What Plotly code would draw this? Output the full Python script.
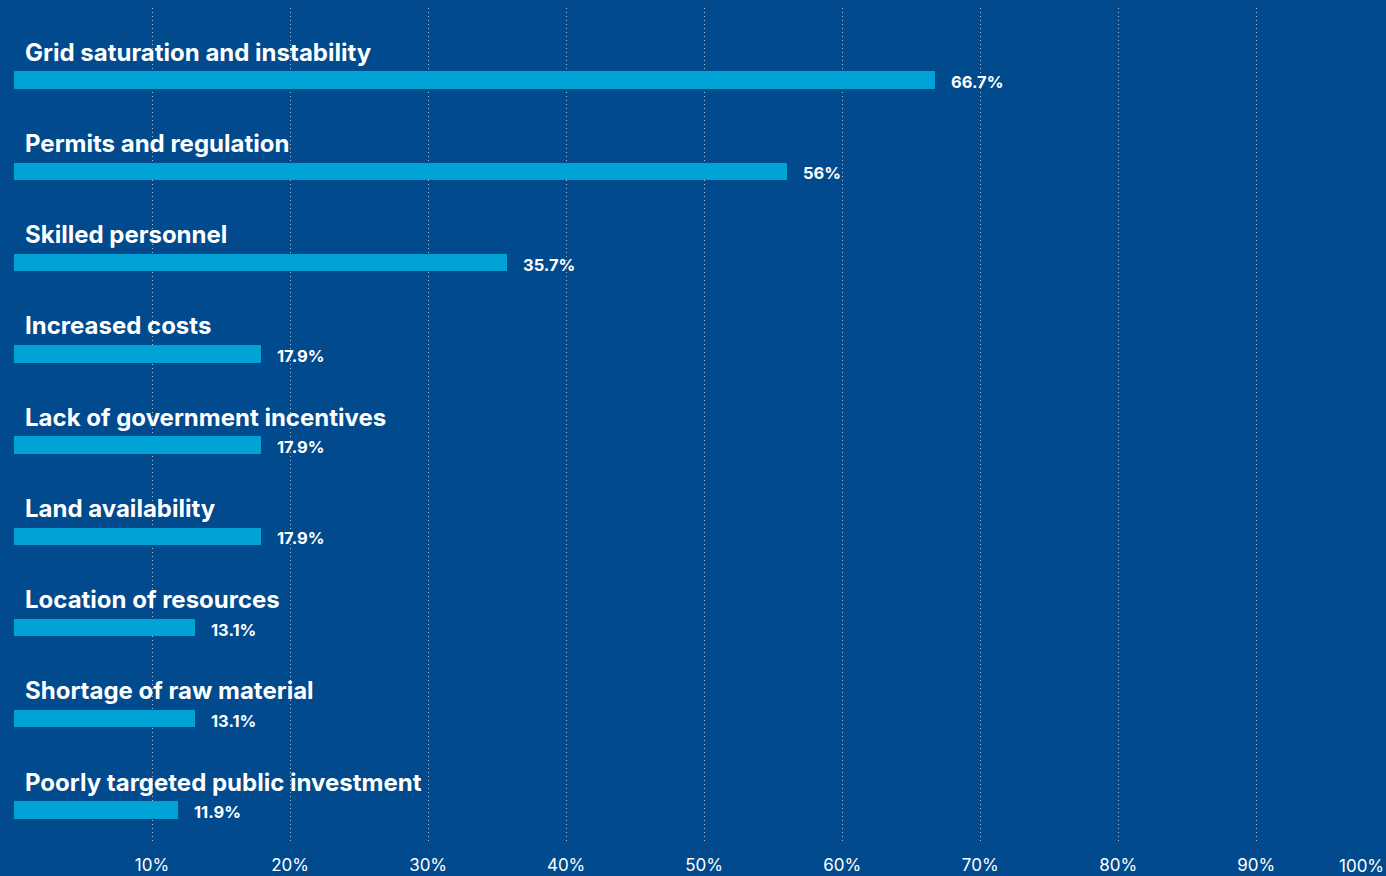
import plotly.graph_objects as go

# Share of respondents citing each barrier (%)
categories = [
    "Grid saturation and instability",
    "Permits and regulation",
    "Skilled personnel",
    "Increased costs",
    "Lack of government incentives",
    "Land availability",
    "Location of resources",
    "Shortage of raw material",
    "Poorly targeted public investment",
]
values = [66.7, 56, 35.7, 17.9, 17.9, 17.9, 13.1, 13.1, 11.9]
value_labels = ["66.7%", "56%", "35.7%", "17.9%", "17.9%", "17.9%", "13.1%", "13.1%", "11.9%"]
tick_values = [10, 20, 30, 40, 50, 60, 70, 80, 90]
tick_labels = ["10%", "20%", "30%", "40%", "50%", "60%", "70%", "80%", "90%"]

BG = "#004A8D"
BAR = "#00A3D6"
FONT = "Inter"

positions = list(range(len(categories)))

fig = go.Figure(
    go.Bar(
        x=values,
        y=positions,
        orientation="h",
        marker=dict(color=BAR, line=dict(width=0)),
        width=0.19,
        hoverinfo="skip",
    )
)

annotations = []
for pos, cat, val, lab in zip(positions, categories, values, value_labels):
    # category title above its bar
    annotations.append(dict(
        x=0, y=pos, xref="x", yref="y", text=f"<b>{cat}</b>",
        showarrow=False, xanchor="left", yanchor="middle",
        xshift=9, yshift=28,
        font=dict(family=FONT, size=24, color="white"),
    ))
    # value label to the right of the bar
    annotations.append(dict(
        x=val, y=pos, xref="x", yref="y", text=f"<b>{lab}</b>",
        showarrow=False, xanchor="left", yanchor="middle",
        xshift=14, yshift=-2,
        font=dict(family=FONT, size=16.5, color="white"),
    ))

# last tick label sits at the right edge of the frame
annotations.append(dict(
    x=1, y=0, xref="paper", yref="paper", text="100%",
    showarrow=False, xanchor="right", yanchor="top",
    yshift=-12,
    font=dict(family=FONT, size=17, color="white"),
))

fig.update_layout(
    width=1386,
    height=876,
    paper_bgcolor=BG,
    plot_bgcolor=BG,
    margin=dict(l=14, r=0, t=8, b=34),
    showlegend=False,
    annotations=annotations,
    bargap=0,
)

fig.update_xaxes(
    range=[0, 99.4],
    tickvals=tick_values,
    ticktext=tick_labels,
    showgrid=True,
    gridcolor="rgba(255,255,255,0.65)",
    gridwidth=1,
    griddash="1px,3px",
    zeroline=False,
    showline=False,
    ticks="outside",
    ticklen=8,
    tickcolor="rgba(0,0,0,0)",
    tickfont=dict(family=FONT, size=17, color="white"),
    fixedrange=True,
)

fig.update_yaxes(
    range=[8.35, -0.79],
    showgrid=False,
    zeroline=False,
    showline=False,
    showticklabels=False,
    fixedrange=True,
)

fig.write_html("out.html")
